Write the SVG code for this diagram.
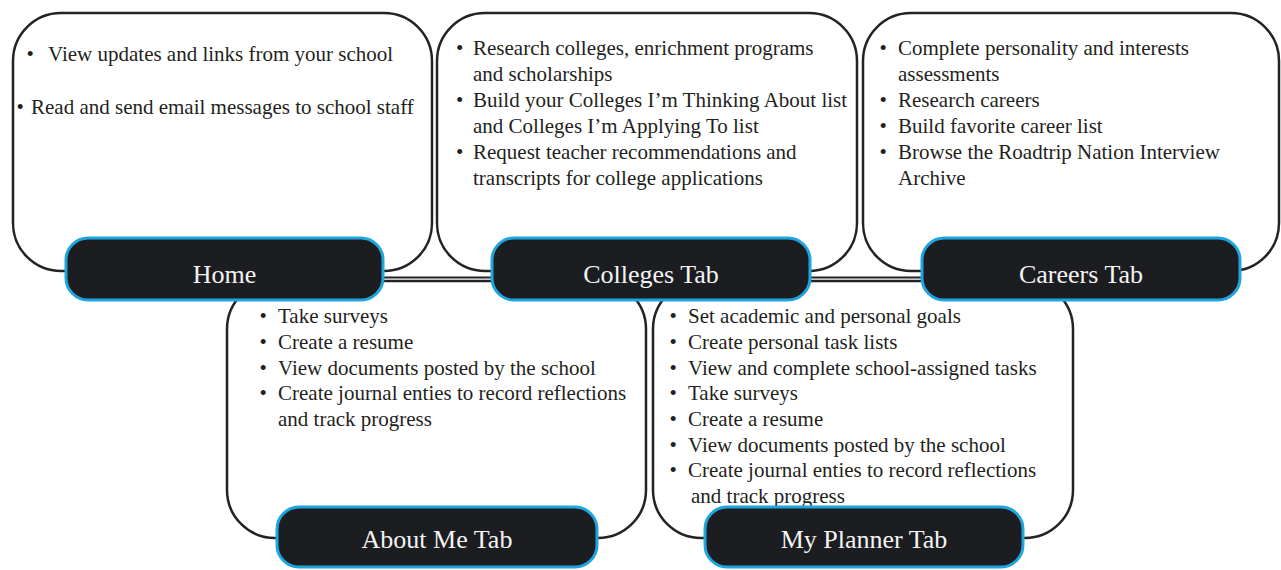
<svg xmlns="http://www.w3.org/2000/svg" width="1281" height="570" viewBox="0 0 1281 570">
<style>
.box{fill:#fff;stroke:#232323;stroke-width:2.5}
.tab{fill:#1c1d21;stroke:#1ea5e0;stroke-width:3}
.t{font-family:"Liberation Serif","Times New Roman",serif;font-size:21px;fill:#231f20}
.lbl{font-family:"Liberation Serif","Times New Roman",serif;font-size:26px;fill:#f4f4f4;text-anchor:middle}
.conn{stroke:#232323;stroke-width:2;fill:none}
</style>
<rect width="1281" height="570" fill="#fff"/>

<g id="about-me">
  <rect class="box" x="227" y="281" width="419" height="257" rx="48"/>
  <text class="t" x="259.5" y="323">•</text><text class="t" x="278" y="323">Take surveys</text>
  <text class="t" x="259.5" y="349">•</text><text class="t" x="278" y="349">Create a resume</text>
  <text class="t" x="259.5" y="375">•</text><text class="t" x="278" y="375">View documents posted by the school</text>
  <text class="t" x="259.5" y="400">•</text><text class="t" x="278" y="400">Create journal enties to record reflections</text>
  <text class="t" x="278" y="426">and track progress</text>
  <rect class="tab" x="277" y="507" width="320" height="60" rx="22"/>
  <text class="lbl" x="437" y="548">About Me Tab</text>
</g>

<g id="my-planner">
  <rect class="box" x="653" y="281" width="420" height="257" rx="48"/>
  <text class="t" x="669.5" y="323">•</text><text class="t" x="688" y="323">Set academic and personal goals</text>
  <text class="t" x="669.5" y="349">•</text><text class="t" x="688" y="349">Create personal task lists</text>
  <text class="t" x="669.5" y="375">•</text><text class="t" x="688" y="375">View and complete school-assigned tasks</text>
  <text class="t" x="669.5" y="400">•</text><text class="t" x="688" y="400">Take surveys</text>
  <text class="t" x="669.5" y="426">•</text><text class="t" x="688" y="426">Create a resume</text>
  <text class="t" x="669.5" y="452">•</text><text class="t" x="688" y="452">View documents posted by the school</text>
  <text class="t" x="669.5" y="477">•</text><text class="t" x="688" y="477">Create journal enties to record reflections</text>
  <text class="t" x="691" y="503">and track progress</text>
  <rect class="tab" x="705" y="507" width="318" height="60" rx="22"/>
  <text class="lbl" x="864" y="548">My Planner Tab</text>
</g>

<g id="connectors">
  <line class="conn" x1="380" y1="277.5" x2="495" y2="277.5"/>
  <line class="conn" x1="806" y1="277.5" x2="925" y2="277.5"/>
</g>

<g id="home">
  <rect class="box" x="13" y="13" width="419" height="258" rx="48"/>
  <text class="t" x="26.5" y="61">•</text><text class="t" x="48" y="61">View updates and links from your school</text>
  <text class="t" x="16.5" y="114">•</text><text class="t" x="31" y="114">Read and send email messages to school staff</text>
  <rect class="tab" x="66" y="238" width="317" height="62" rx="22"/>
  <text class="lbl" x="224.5" y="283">Home</text>
</g>

<g id="colleges">
  <rect class="box" x="437" y="13" width="420" height="258" rx="48"/>
  <text class="t" x="456" y="55">•</text><text class="t" x="473" y="55">Research colleges, enrichment programs</text>
  <text class="t" x="473" y="81">and scholarships</text>
  <text class="t" x="456" y="107">•</text><text class="t" x="473" y="107">Build your Colleges I’m Thinking About list</text>
  <text class="t" x="473" y="133">and Colleges I’m Applying To list</text>
  <text class="t" x="456" y="159">•</text><text class="t" x="473" y="159">Request teacher recommendations and</text>
  <text class="t" x="473" y="185">transcripts for college applications</text>
  <rect class="tab" x="492" y="238" width="318" height="62" rx="22"/>
  <text class="lbl" x="651" y="283">Colleges Tab</text>
</g>

<g id="careers">
  <rect class="box" x="863" y="13" width="416" height="258" rx="48"/>
  <text class="t" x="879.5" y="55">•</text><text class="t" x="898" y="55">Complete personality and interests</text>
  <text class="t" x="898" y="81">assessments</text>
  <text class="t" x="879.5" y="107">•</text><text class="t" x="898" y="107">Research careers</text>
  <text class="t" x="879.5" y="133">•</text><text class="t" x="898" y="133">Build favorite career list</text>
  <text class="t" x="879.5" y="159">•</text><text class="t" x="898" y="159">Browse the Roadtrip Nation Interview</text>
  <text class="t" x="898" y="185">Archive</text>
  <rect class="tab" x="922" y="238" width="318" height="62" rx="22"/>
  <text class="lbl" x="1081" y="283">Careers Tab</text>
</g>
</svg>
